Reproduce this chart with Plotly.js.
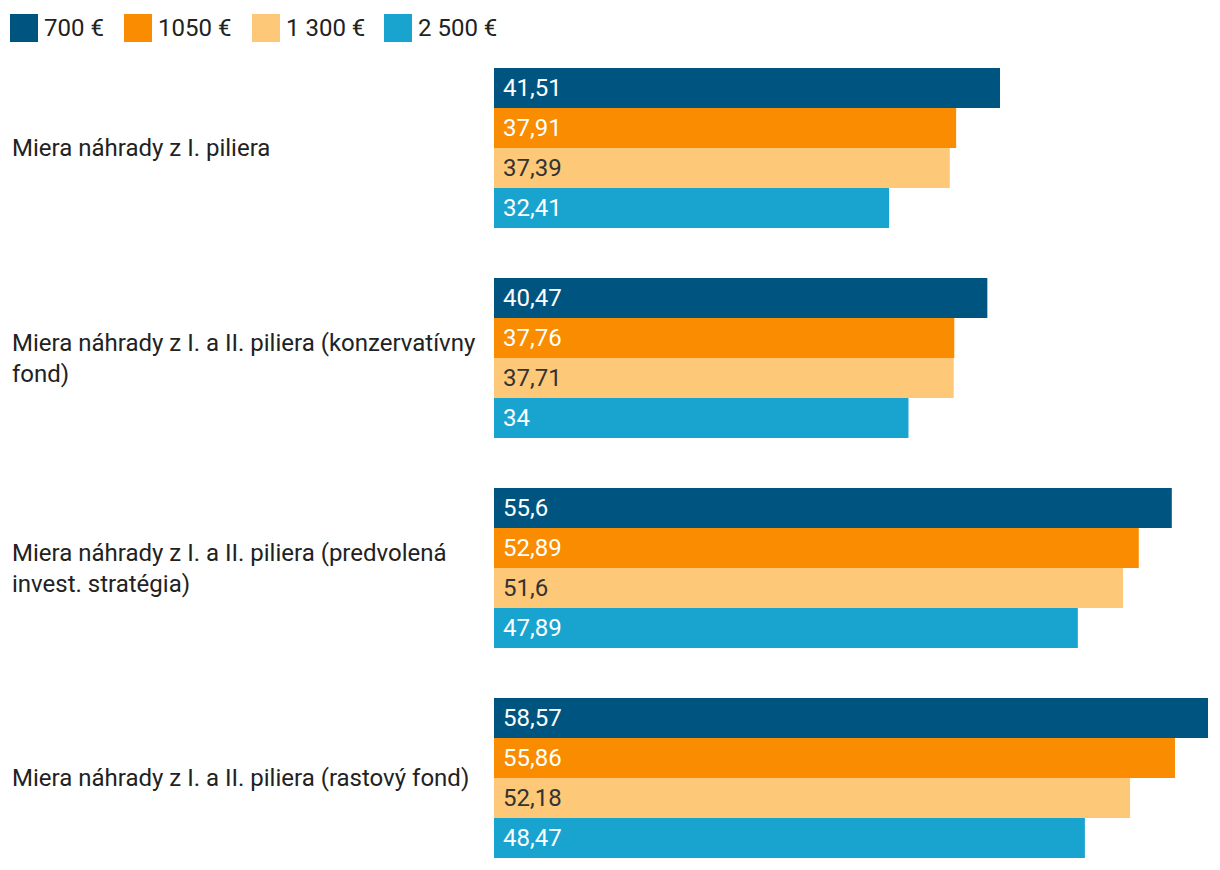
<!DOCTYPE html>
<html>
<head>
<meta charset="utf-8">
<script src="https://cdn.plot.ly/plotly-3.0.1.min.js"></script>
<style>
html,body{margin:0;padding:0;background:#fff;}
#chart{width:1220px;height:870px;}
</style>
</head>
<body>
<div id="chart"></div>
<script>
var categories = [
  "Miera náhrady z I. piliera",
  "Miera náhrady z I. a II. piliera (konzervatívny<br>fond)",
  "Miera náhrady z I. a II. piliera (predvolená<br>invest. stratégia)",
  "Miera náhrady z I. a II. piliera (rastový fond)"
];
var seriesNames = ["700 €", "1050 €", "1 300 €", "2 500 €"];
var v700 = [41.51, 40.47, 55.6, 58.57];
var v1050 = [37.91, 37.76, 52.89, 55.86];
var v1300 = [37.39, 37.71, 51.6, 52.18];
var v2500 = [32.41, 34, 47.89, 48.47];

var seriesValues = [v700, v1050, v1300, v2500];
var colors = ["#005580", "#f98c00", "#fdc978", "#19a3cf"];
var textColors = ["#ffffff", "#ffffff", "#333333", "#ffffff"];
var FONT = "Roboto, 'Open Sans', sans-serif";
var FS = 24;

var catIdx = categories.map(function(c, i){ return i; });

var traces = seriesValues.map(function(vals, s){
  return {
    type: "bar",
    orientation: "h",
    name: seriesNames[s],
    y: catIdx,
    x: vals,
    text: vals.map(function(v){ return "\u00a0" + String(v).replace(".", ","); }),
    textposition: "inside",
    insidetextanchor: "start",
    textangle: 0,
    constraintext: "none",
    textfont: {family: FONT, size: FS, color: textColors[s]},
    marker: {color: colors[s], line: {width: 0}},
    hoverinfo: "none",
    showlegend: false
  };
});

var annotations = categories.map(function(c, i){
  return {
    xref: "paper", yref: "y",
    x: (10 - 494)/714, y: i,
    xanchor: "left", yanchor: "middle",
    align: "left",
    showarrow: false,
    text: c,
    font: {family: FONT, size: FS, color: "#222222"}
  };
});

// custom legend (paper coordinates)
var legX = [10, 124, 252, 384];
var shapes = [];
seriesNames.forEach(function(n, s){
  var x0 = (legX[s] - 494) / 714;
  var x1 = (legX[s] + 28 - 494) / 714;
  shapes.push({
    type: "rect", xref: "paper", yref: "paper",
    x0: x0, x1: x1,
    y0: (870 - 42) / 827, y1: (870 - 14) / 827,
    fillcolor: colors[s], line: {width: 0}
  });
  annotations.push({
    xref: "paper", yref: "paper",
    x: (legX[s] + 32 - 494) / 714, y: (870 - 28) / 827,
    xanchor: "left", yanchor: "middle",
    showarrow: false, text: n,
    font: {family: FONT, size: FS, color: "#222222"}
  });
});

var layout = {
  width: 1220, height: 870,
  margin: {l: 494, r: 12, t: 43, b: 0, pad: 0},
  paper_bgcolor: "#ffffff", plot_bgcolor: "#ffffff",
  barmode: "group",
  bargap: 50/210,
  bargroupgap: 0,
  showlegend: false,
  font: {family: FONT, size: FS, color: "#222222"},
  xaxis: {range: [0, 58.57], visible: false, fixedrange: true},
  yaxis: {
    range: [3.438, -0.5], autorange: false,
    showticklabels: false, showgrid: false, zeroline: false,
    showline: false, ticks: "", fixedrange: true
  },
  annotations: annotations,
  shapes: shapes
};

Plotly.newPlot("chart", traces, layout, {displayModeBar: false, staticPlot: true});
</script>
</body>
</html>
